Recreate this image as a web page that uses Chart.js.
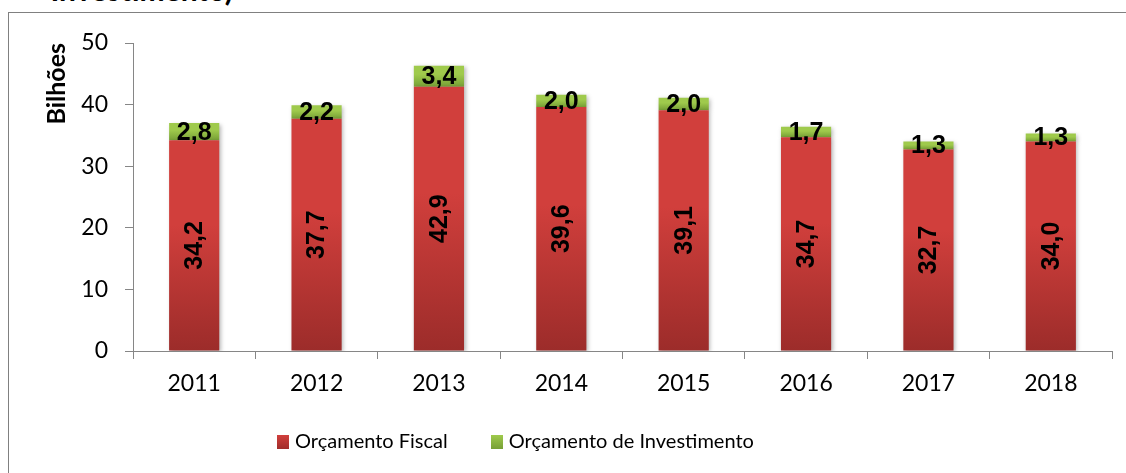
<!DOCTYPE html>
<html>
<head>
<meta charset="utf-8">
<script src="https://cdn.jsdelivr.net/npm/chart.js@4"></script>
<style>
  html, body { margin: 0; padding: 0; background: #fff; overflow: hidden; }
  body { width: 1126px; height: 473px; position: relative; font-family: Lato, "Open Sans", sans-serif; }
  #frame { position: absolute; left: 8px; top: 12px; width: 1300px; height: 700px; border: 1px solid #808080; box-sizing: border-box; }
  #title { position: absolute; left: 0; top: -26px; width: 233px; text-align: right; font: bold 30px/30px Lato, sans-serif; color: #000; white-space: nowrap; }
  #wrap { position: absolute; left: 0; top: 0; width: 1126px; height: 473px; }
  #legend { position: absolute; top: 427px; left: 277px; font: 20px/26px Lato, sans-serif; color: #000; white-space: nowrap; }
  #legend span.box { display: inline-block; width: 12px; height: 14px; vertical-align: -1px; margin-right: 6px; }
</style>
</head>
<body>
<div id="frame"></div>
<div id="title">Investimento)</div>
<div id="wrap"><canvas id="c" width="1126" height="473"></canvas></div>
<div id="legend"></div>
<script>
const categories = ['2011', '2012', '2013', '2014', '2015', '2016', '2017', '2018'];
const orcamentoFiscal = [34.2, 37.7, 42.9, 39.6, 39.1, 34.7, 32.7, 34.0];
const orcamentoInvestimento = [2.8, 2.2, 3.4, 2.0, 2.0, 1.7, 1.3, 1.3];
const seriesNames = ['Orçamento Fiscal', 'Orçamento de Investimento'];
const yTicks = [0, 10, 20, 30, 40, 50];

const fmt = v => v.toFixed(1).replace('.', ',');

function segGradient(ctx, topColor, bottomColor, lowerStack) {
  const chart = ctx.chart;
  const y = chart.scales && chart.scales.y;
  if (!y || ctx.dataIndex === undefined) return bottomColor;
  const i = ctx.dataIndex;
  const base = lowerStack ? lowerStack[i] : 0;
  const v = ctx.dataset.data[i];
  const y0 = y.getPixelForValue(base);
  const y1 = y.getPixelForValue(base + v);
  if (!isFinite(y0) || !isFinite(y1) || y0 === y1) return bottomColor;
  const g = chart.ctx.createLinearGradient(0, y1, 0, y0);
  g.addColorStop(0, topColor);
  g.addColorStop(0.4, topColor);
  g.addColorStop(1, bottomColor);
  return g;
}

const shadowPlugin = {
  id: 'barShadow',
  beforeDatasetsDraw(chart) {
    const c = chart.ctx;
    c.save();
    c.shadowColor = 'rgba(0,0,0,0.28)';
    c.shadowBlur = 4;
    c.shadowOffsetX = 1.5;
    c.shadowOffsetY = 1.5;
  },
  afterDatasetsDraw(chart) {
    chart.ctx.restore();
  }
};

const labelPlugin = {
  id: 'valueLabels',
  afterDatasetsDraw(chart) {
    const c = chart.ctx;
    chart.data.datasets.forEach((ds, di) => {
      const meta = chart.getDatasetMeta(di);
      meta.data.forEach((el, i) => {
        const cy = (el.y + el.base) / 2;
        c.save();
        c.fillStyle = '#000';
        c.font = 'bold 25px "Liberation Sans", Arial, sans-serif';
        c.textAlign = 'center';
        c.textBaseline = 'middle';
        if (di === 0) {
          c.translate(el.x, cy);
          c.rotate(-Math.PI / 2);
          c.fillText(fmt(ds.data[i]), 0, 1);
        } else {
          c.fillText(fmt(ds.data[i]), el.x, cy + 1);
        }
        c.restore();
      });
    });
  }
};

const axisColor = '#868686';

new Chart(document.getElementById('c'), {
  type: 'bar',
  data: {
    labels: categories,
    datasets: [
      {
        label: seriesNames[0],
        data: orcamentoFiscal,
        backgroundColor: ctx => segGradient(ctx, '#d13f3c', '#9c2c2a', null),
        borderWidth: 0,
        barPercentage: 0.41,
        categoryPercentage: 1.0
      },
      {
        label: seriesNames[1],
        data: orcamentoInvestimento,
        backgroundColor: ctx => segGradient(ctx, '#9fca4c', '#77a036', orcamentoFiscal),
        borderWidth: 0,
        barPercentage: 0.41,
        categoryPercentage: 1.0
      }
    ]
  },
  options: {
    responsive: false,
    animation: false,
    devicePixelRatio: 1,
    layout: { padding: { left: 42, right: 14, top: 43, bottom: 82 } },
    plugins: {
      legend: { display: false },
      tooltip: { enabled: false }
    },
    scales: {
      x: {
        stacked: true,
        offset: true,
        grid: { drawOnChartArea: false, tickLength: 8, color: axisColor, offset: true },
        border: { color: axisColor, width: 1 },
        ticks: { color: '#000', font: { family: 'Lato', size: 23 }, padding: 11, maxRotation: 0 },
        afterFit(scale) { scale.height = 40; }
      },
      y: {
        stacked: true,
        min: 0,
        max: 50,
        afterBuildTicks(scale) { scale.ticks = yTicks.map(v => ({ value: v })); },
        grid: { drawOnChartArea: false, tickLength: 8, color: axisColor },
        border: { color: axisColor, width: 1 },
        ticks: { color: '#000', font: { family: 'Lato', size: 23 }, padding: 17 },
        title: { display: true, text: 'Bilhões', align: 'end', color: '#000', font: { family: 'Lato', size: 25, weight: 'bold' }, padding: 0 },
        afterFit(scale) { scale.width = 91; }
      }
    }
  },
  plugins: [shadowPlugin, labelPlugin]
});

const legend = document.getElementById('legend');
const legendColors = [
  'linear-gradient(#d13f3c, #a02d2b)',
  'linear-gradient(#9fca4c, #77a036)'
];
seriesNames.forEach((name, i) => {
  const item = document.createElement('span');
  item.style.marginRight = i === 0 ? '43px' : '0';
  const box = document.createElement('span');
  box.className = 'box';
  box.style.background = legendColors[i];
  item.appendChild(box);
  item.appendChild(document.createTextNode(name));
  legend.appendChild(item);
});
</script>
</body>
</html>
